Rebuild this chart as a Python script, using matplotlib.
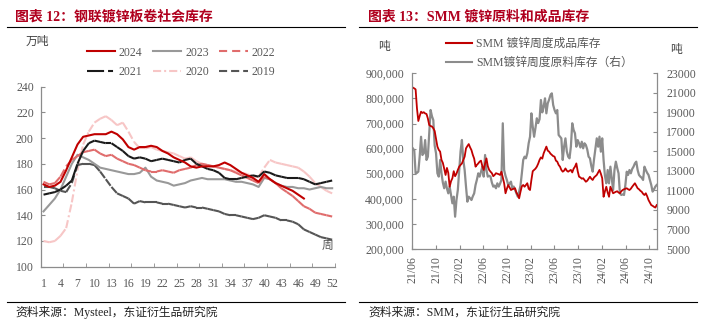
import numpy as np
import pandas as pd
import matplotlib
matplotlib.use("Agg")
import matplotlib.pyplot as plt
import matplotlib.dates as mdates
from matplotlib.collections import LineCollection
from matplotlib.lines import Line2D
from matplotlib.ticker import FuncFormatter, FixedLocator, MultipleLocator

CJK = "Noto Sans CJK SC"
SERIF = ["Liberation Serif", CJK]
plt.rcParams["font.family"] = SERIF

# ---- 钢联镀锌板卷社会库存（万吨），按周 ----
weeks = np.arange(1, 53)
inv_2024 = [164, 162, 163, 166, 175, 185, 195, 201, 202, 203, 203, 203, 205, 203, 199, 193,
            191, 193, 193, 194, 193, 190, 188, 185, 183, 181, 178, 177, 178, 178, 178, 179,
            181, 179, 176, 173, 171, 169, 166, 172, 168, 165, 163, 161, 159, 156, 153]
inv_2023 = [143, 148, 153, 160, 170, 180, 187, 185, 183, 180, 177, 176, 175, 174, 173, 172,
            172, 173, 177, 170, 167, 166, 165, 163, 164, 165, 167, 168, 169, 168, 168, 168,
            168, 167, 166, 166, 165, 164, 162, 169, 168, 165, 163, 162, 162, 161, 161, 160,
            161, 162, 161, 161]
inv_2022 = [166, 164, 165, 170, 178, 183, 186, 189, 190, 191, 188, 186, 187, 184, 182, 180,
            179, 177, 175, 174, 174, 175, 174, 173, 175, 176, 177, 179, 180, 179, 178, 177,
            176, 175, 173, 171, 169, 167, 165, 170, 168, 165, 161, 158, 155, 151, 147, 145,
            142, 141, 140, 139]
inv_2021 = [156, 157, 158, 160, 163, 167, 180, 190, 196, 198, 197, 196, 196, 193, 190, 186,
            184, 185, 184, 182, 183, 184, 183, 182, 181, 183, 184, 180, 178, 176, 175, 173,
            169, 168, 168, 169, 170, 171, 170, 174, 173, 171, 170, 169, 169, 169, 168, 166,
            164, 165, 166, 167]
inv_2020 = [120, 119, 120, 124, 130, 150, 175, 195, 205, 212, 215, 217, 214, 210, 212, 205,
            197, 192, 192, 193, 191, 190, 189, 188, 186, 184, 185, 182, 180, 179, 178, 177,
            176, 175, 174, 173, 172, 170, 170, 177, 183, 181, 180, 179, 178, 177, 174, 170,
            165, 162, 159, 157]
inv_2019 = [162, 162, 161, 159, 158, 165, 179, 180, 180, 179, 174, 168, 162, 157, 155, 153,
            149, 151, 150, 150, 150, 149, 149, 148, 147, 146, 147, 146, 146, 145, 144, 143,
            141, 140, 140, 139, 138, 137, 138, 140, 139, 138, 136, 136, 135, 133, 129, 127,
            125, 123, 122, 121]

# ---- SMM 镀锌周度库存 ----
dates = pd.date_range("2021-06-04", periods=180, freq="7D")
finished_k = [843, 840, 836, 760, 710, 730, 747, 742, 745, 740, 738, 720, 694, 690, 688, 681,
              670, 640, 608, 595, 588, 555, 543, 520, 495, 523, 503, 448, 470, 482, 510, 490,
              500, 515, 528, 535, 541, 555, 568, 601, 610, 618, 605, 594, 575, 560, 528, 535,
              541, 548, 552, 530, 515, 540, 561, 530, 515, 508, 502, 490, 495, 502, 500, 498,
              495, 508, 485, 462, 422, 440, 455, 445, 435, 438, 440, 442, 425, 415, 402, 428,
              450, 455, 448, 455, 462, 440, 435, 475, 510, 515, 520, 528, 540, 555, 565, 560,
              581, 595, 608, 592, 588, 580, 575, 570, 568, 552, 548, 535, 528, 515, 508, 512,
              521, 512, 508, 512, 515, 505, 520, 528, 541, 510, 488, 485, 480, 482, 475, 468,
              472, 480, 488, 480, 475, 485, 490, 495, 505, 515, 500, 482, 408, 430, 448, 425,
              408, 448, 435, 422, 425, 428, 430, 425, 422, 430, 435, 438, 440, 442, 438, 435,
              440, 448, 455, 462, 452, 442, 438, 432, 428, 420, 415, 422, 410, 395, 385, 375,
              372, 368, 365, 375]
finished = [v * 1000 for v in finished_k]
raw = [15300, 15100, 12750, 12800, 12930, 14500, 16500, 14630, 14800, 16160, 14120, 14460,
       16800, 19240, 18600, 18200, 15600, 14800, 12750, 12415, 14120, 12755, 11800, 11220,
       11900, 11200, 10700, 11390, 10500, 9680, 10360, 8310, 10020, 11050, 13090, 15000,
       16170, 14120, 13090, 11390, 9850, 10360, 10200, 10020, 10400, 10700, 11560, 12100,
       12755, 12415, 12900, 13440, 12415, 14630, 13090, 12415, 12500, 12415, 11800, 11390,
       11500, 11220, 11730, 11390, 11700, 12070, 17880, 13090, 12500, 12070, 11560, 11700,
       11900, 11220, 11400, 11050, 10700, 10360, 10880, 11500, 12755, 14120, 14460, 14290,
       14800, 15830, 16500, 18900, 17540, 16500, 17400, 18390, 17900, 18300, 20266, 19000,
       19583, 20436, 18900, 19920, 20300, 20777, 20948, 19750, 19240, 18900, 19240, 16680,
       16500, 16337, 14120, 15480, 16337, 15000, 14460, 14290, 15500, 17880, 17200, 16850,
       15480, 16160, 15830, 15400, 15990, 15310, 15830, 15650, 15200, 14460, 14290, 13500,
       12924, 14200, 15310, 16337, 15480, 16507, 14970, 16337, 14120, 12500, 11730, 13094,
       11730, 13436, 12200, 11047, 13094, 13947, 13300, 12755, 10706, 10535, 10600, 10535,
       11560, 12924, 12585, 13094, 12755, 13200, 13436, 13776, 13947, 13094, 12585, 12415,
       12300, 12072, 13436, 13094, 12800, 12585, 12072, 11560, 10877, 11100, 11389, 11560]

W, H = 707, 331
fig = plt.figure(figsize=(W / 100, H / 100), dpi=100)


def fx(px):
    return px / W


def fy(py):
    return 1 - py / H


TICK_C = "#595959"
SPINE_C = "#8c8c8c"
FS = 8.5


def dashed(ax, x, y, color, pattern, lw=1.5):
    # every segment restarts its dash pattern, so short flat steps look solid
    pts = np.column_stack([x, y])
    segs = [pts[i:i + 2] for i in range(len(pts) - 1)]
    lc = LineCollection(segs, colors=color, linewidths=lw, linestyles=[(0, pattern)],
                        capstyle="butt")
    ax.add_collection(lc)


def style_axes(ax):
    for s in ["top", "right"]:
        ax.spines[s].set_visible(False)
    for s in ["left", "bottom", "right"]:
        ax.spines[s].set_color(SPINE_C)
        ax.spines[s].set_linewidth(0.9)


# ======================= 左图 =======================
axl = fig.add_axes([fx(40.7), fy(266.7), fx(335) - fx(40.7), fy(86.6) - fy(266.7)])
style_axes(axl)

c2024, c2023, c2022 = "#c00000", "#999999", "#e06c6c"
c2021, c2020, c2019 = "#1a1a1a", "#f7c6c6", "#555555"
p2022 = (3.9, 2.4)
p2021 = (8.2, 1.9, 2.4, 1.9)
p2020 = (3.9, 1.45, 0.95, 1.45)
p2019 = (3.9, 1.9)

dashed(axl, weeks, inv_2020, c2020, p2020)
dashed(axl, weeks, inv_2019, c2019, p2019)
axl.plot(weeks, inv_2023, color=c2023, lw=1.5)
dashed(axl, weeks, inv_2022, c2022, p2022)
dashed(axl, weeks, inv_2021, c2021, p2021)
axl.plot(weeks[:len(inv_2024)], inv_2024, color=c2024, lw=1.5)

axl.set_xlim(0.5, 52.5)
axl.set_ylim(100, 240)
axl.xaxis.set_major_locator(FixedLocator(np.arange(1, 53, 3)))
axl.xaxis.set_minor_locator(FixedLocator(np.arange(4.5, 53, 4)))
axl.yaxis.set_major_locator(MultipleLocator(20))
axl.tick_params(axis="x", which="major", length=0, pad=8, labelsize=FS, labelcolor=TICK_C)
axl.tick_params(axis="x", which="minor", direction="in", length=3, color=SPINE_C)
axl.tick_params(axis="y", direction="in", length=3, color=SPINE_C, pad=5,
                labelsize=FS, labelcolor=TICK_C)
axl.text(0.976, 0.117, "周", transform=axl.transAxes, ha="center", va="center",
         fontsize=FS, color=TICK_C, family=[CJK])

handles = [
    Line2D([], [], color=c2024, lw=1.5),
    Line2D([], [], color=c2021, lw=1.5, linestyle=(0, p2021)),
    Line2D([], [], color=c2023, lw=1.5),
    Line2D([], [], color=c2020, lw=1.5, linestyle=(0, p2020)),
    Line2D([], [], color=c2022, lw=1.5, linestyle=(0, p2022)),
    Line2D([], [], color=c2019, lw=1.5, linestyle=(0, p2019)),
]
labels = ["2024", "2021", "2023", "2020", "2022", "2019"]
legl = fig.legend(handles, labels, ncol=3, loc="upper left",
                  bbox_to_anchor=(fx(87), fy(46.5)), frameon=False, fontsize=FS,
                  handlelength=2.4, handletextpad=0.3, columnspacing=0.9,
                  labelspacing=0.62, borderpad=0, borderaxespad=0)
for t in legl.get_texts():
    t.set_color(TICK_C)

fig.text(fx(26), fy(41.7), "万吨", fontsize=FS, color="#404040", va="center", family=[CJK])

# ======================= 右图 =======================
axr = fig.add_axes([fx(412.3), fy(249), fx(656.7) - fx(412.3), fy(73.3) - fy(249)])
axr2 = axr.twinx()
style_axes(axr)
for s in ["top", "left", "bottom"]:
    axr2.spines[s].set_visible(False)
axr2.spines["right"].set_color(SPINE_C)
axr2.spines["right"].set_linewidth(0.9)

axr2.plot(dates, raw, color="#8c8c8c", lw=1.6)
axr.plot(dates, finished, color="#c00000", lw=1.3)
axr.set_zorder(axr2.get_zorder() + 1)
axr.patch.set_visible(False)

axr.set_xlim(pd.Timestamp("2021-06-01"), pd.Timestamp("2024-11-08"))
axr.set_ylim(200000, 900000)
axr2.set_ylim(5000, 23000)
axr.yaxis.set_major_locator(MultipleLocator(100000))
axr2.yaxis.set_major_locator(FixedLocator(np.arange(5000, 23001, 2000)))
axr.yaxis.set_major_formatter(FuncFormatter(lambda v, p: f"{v:,.0f}"))
axr.xaxis.set_major_locator(mdates.MonthLocator(bymonth=[2, 6, 10]))
axr.xaxis.set_major_formatter(mdates.DateFormatter("%y/%m"))
axr.tick_params(axis="x", direction="in", length=3, color=SPINE_C, pad=5,
                labelsize=FS, labelcolor=TICK_C, labelrotation=90)
axr.tick_params(axis="y", direction="in", length=3, color=SPINE_C, pad=6,
                labelsize=FS, labelcolor=TICK_C)
axr2.tick_params(axis="y", direction="in", length=3, color=SPINE_C, pad=7,
                 labelsize=FS, labelcolor=TICK_C)

legr = fig.legend([Line2D([], [], color="#c00000", lw=1.5), Line2D([], [], color="#8c8c8c", lw=1.5)],
                  ["SMM 镀锌周度成品库存", "SMM镀锌周度原料库存（右）"],
                  loc="upper left", bbox_to_anchor=(fx(446), fy(38)), frameon=False,
                  fontsize=FS, handlelength=2.2, handletextpad=0.35, labelspacing=0.6,
                  borderpad=0, borderaxespad=0)
for t in legr.get_texts():
    t.set_color(TICK_C)

fig.text(fx(378), fy(46.7), "吨", fontsize=FS, color="#404040", va="center", family=[CJK])
fig.text(fx(670), fy(50), "吨", fontsize=FS, color="#404040", va="center", family=[CJK])

# ======================= 标题、来源 =======================
title_c = "#b0001e"
fig.text(fx(15), fy(16.7), "图表 12：钢联镀锌板卷社会库存", fontsize=10, fontweight="bold",
         color=title_c, va="center")
fig.text(fx(368), fy(16.7), "图表 13：SMM 镀锌原料和成品库存", fontsize=10, fontweight="bold",
         color=title_c, va="center")
for x0, x1 in [(7, 345), (359, 697)]:
    for yy in [26.7, 301.7]:
        fig.add_artist(Line2D([fx(x0), fx(x1)], [fy(yy), fy(yy)], color="black", lw=0.8))
fig.text(fx(15), fy(312.3), "资料来源：Mysteel，东证衍生品研究院", fontsize=FS,
         color="#222222", va="center")
fig.text(fx(368), fy(312.3), "资料来源：SMM，东证衍生品研究院", fontsize=FS,
         color="#222222", va="center")

fig.savefig("out.png", dpi=100)
